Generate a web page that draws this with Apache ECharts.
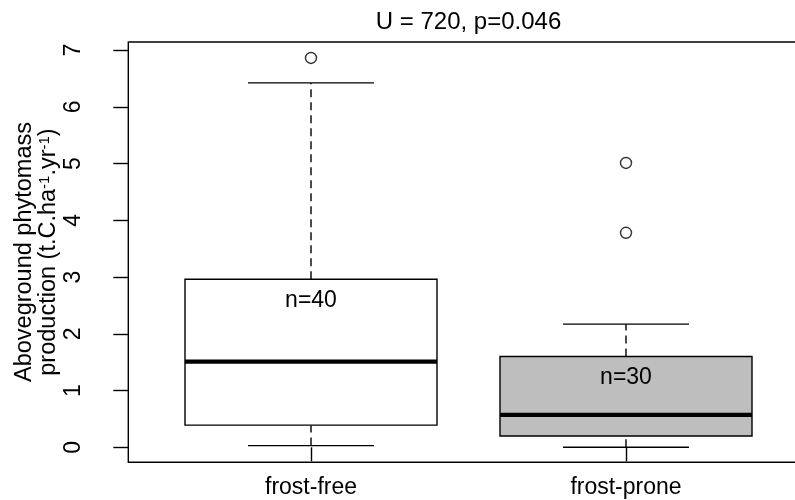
<!DOCTYPE html>
<html>
<head>
<meta charset="utf-8">
<script src="https://cdn.jsdelivr.net/npm/echarts@6/dist/echarts.min.js"></script>
<style>html,body{margin:0;padding:0;background:#fff;}#c{width:795px;height:500px;}</style>
</head>
<body>
<div id="c"></div>
<script>
// ---- data ----
const categories = ["frost-free", "frost-prone"];
const lowWhisker = [0.03, 0.0];
const q1 = [0.39, 0.20];
const median = [1.51, 0.57];
const q3 = [2.96, 1.60];
const highWhisker = [6.42, 2.17];
const outliers = [[1, 6.86], [2, 5.01], [2, 3.78]];
const nLabels = ["n=40", "n=30"];
const boxFill = ["#ffffff", "#bebebe"];
const yTicks = [0, 1, 2, 3, 4, 5, 6, 7];
const titleText = "U = 720, p=0.046";
const yTitleRich = '{a|Aboveground phytomass}\n{a|production (t.C.ha}{s|-1}{a|.yr}{s|-1}{a|)}';

const FONT = "Liberation Sans, Arial, sans-serif";
const chart = echarts.init(document.getElementById('c'), null, {renderer: 'canvas'});

const boxData = categories.map((c, i) => [i + 1, lowWhisker[i], q1[i], median[i], q3[i], highWhisker[i], i]);

function renderBox(params, api) {
  const x = api.value(0);
  const idx = api.value(6);
  const pLow = api.coord([x, api.value(1)]);
  const pQ1 = api.coord([x, api.value(2)]);
  const pMed = api.coord([x, api.value(3)]);
  const pQ3 = api.coord([x, api.value(4)]);
  const pHigh = api.coord([x, api.value(5)]);
  const half = api.size([0.4, 0])[0];
  const capHalf = api.size([0.2, 0])[0];
  const cx = pMed[0];
  const lw = 1.4;
  return {
    type: 'group',
    children: [
      {type: 'line', shape: {x1: cx, y1: pQ3[1], x2: cx, y2: pHigh[1]}, style: {stroke: '#000', lineWidth: lw, lineDash: [8, 5]}},
      {type: 'line', shape: {x1: cx, y1: pLow[1], x2: cx, y2: pQ1[1]}, style: {stroke: '#000', lineWidth: lw, lineDash: [8, 5]}},
      {type: 'line', shape: {x1: cx - capHalf, y1: pHigh[1], x2: cx + capHalf, y2: pHigh[1]}, style: {stroke: '#000', lineWidth: lw}},
      {type: 'line', shape: {x1: cx - capHalf, y1: pLow[1], x2: cx + capHalf, y2: pLow[1]}, style: {stroke: '#000', lineWidth: lw}},
      {type: 'rect', shape: {x: cx - half, y: pQ3[1], width: 2 * half, height: pQ1[1] - pQ3[1]}, style: {fill: boxFill[idx], stroke: '#000', lineWidth: lw}},
      {type: 'line', shape: {x1: cx - half, y1: pMed[1], x2: cx + half, y2: pMed[1]}, style: {stroke: '#000', lineWidth: 4.2}},
      {type: 'text', x: cx, y: pQ3[1] + 21, style: {text: nLabels[idx], fill: '#000', font: '23px ' + FONT, textAlign: 'center', textVerticalAlign: 'middle'}}
    ]
  };
}

const option = {
  animation: false,
  backgroundColor: '#fff',
  grid: {left: 128.3, top: 42, width: 680.4, height: 420.3, show: true, borderColor: '#000', borderWidth: 1.4,
         backgroundColor: 'transparent', containLabel: false, outerBoundsMode: 'none'},
  xAxis: {
    type: 'value', min: 0.42, max: 2.58,
    splitLine: {show: false},
    axisLine: {show: false},
    axisTick: {show: true, customValues: [1, 2], length: 14, lineStyle: {color: '#000', width: 1.4}},
    axisLabel: {customValues: [1, 2], formatter: v => categories[Math.round(v) - 1], fontSize: 23, fontFamily: FONT, color: '#000', margin: 14}
  },
  yAxis: {
    type: 'value', min: -0.2643, max: 7.141,
    splitLine: {show: false},
    axisLine: {show: false},
    axisTick: {show: true, customValues: yTicks, length: 15, lineStyle: {color: '#000', width: 1.4}},
    axisLabel: {customValues: yTicks, rotate: 90, fontSize: 23, fontFamily: FONT, color: '#000', margin: 43}
  },
  graphic: [
    {type: 'text', x: 468.5, y: 22, style: {text: titleText, font: '24px ' + FONT, fill: '#000', textAlign: 'center', textVerticalAlign: 'middle'}},
    {type: 'text', x: 37, y: 252, rotation: Math.PI / 2,
     style: {text: yTitleRich, fill: '#000', align: 'center', verticalAlign: 'middle', fontFamily: FONT,
       rich: {
         a: {fontSize: 23.5, fontFamily: FONT, fill: '#000', lineHeight: 24, align: 'center'},
         s: {fontSize: 15, fontFamily: FONT, fill: '#000', lineHeight: 24, verticalAlign: 'top'}
       }}}
  ],
  series: [
    {type: 'custom', renderItem: renderBox, data: boxData, encode: {x: 0, y: [1, 5]}, clip: false, z: 2},
    {type: 'scatter', data: outliers, symbol: 'circle', symbolSize: 11, itemStyle: {color: 'transparent', borderColor: '#000', borderWidth: 1.4}, z: 3}
  ]
};
chart.setOption(option);
</script>
</body>
</html>
